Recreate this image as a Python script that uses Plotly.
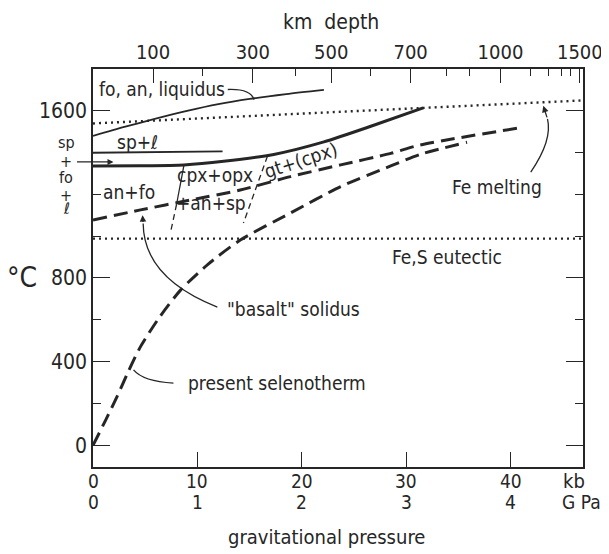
import plotly.graph_objects as go

# --- curves (pressure in kb, temperature in deg C) ---
liquidus_kb = [0, 3, 6, 9, 12, 15, 18.5, 22.1]
liquidus_c = [1478, 1521, 1561, 1598, 1630, 1655, 1678, 1698]

boundary_kb = [0, 4.5, 8.7, 12.5, 17.3, 22.1, 26.8, 31.6]
boundary_c = [1335, 1336, 1340, 1357, 1390, 1450, 1528, 1612]

sp_liq_kb = [0, 12.4]
sp_liq_c = [1398, 1405]

cpx_solid_kb = [8.7, 8.0]
cpx_solid_c = [1338, 1152]
cpx_dash_kb = [8.0, 7.4]
cpx_dash_c = [1152, 1013]

gt_kb = [16.7, 14.4]
gt_c = [1382, 1062]

solidus_kb = [0, 4.55, 9.3, 14.1, 18.9, 23.7, 28.5, 31.3, 40.6]
solidus_c = [1077, 1125, 1172, 1220, 1284, 1340, 1395, 1435, 1515]

seleno_kb = [0, 1.2, 2.3, 3.4, 4.55, 6.4, 8.4, 11, 14.1, 18.9, 23.7, 28.5, 31.3, 35.8]
seleno_c = [0, 120, 233, 355, 472, 615, 743, 865, 981, 1110, 1236, 1335, 1390, 1448]

fe_melt_kb = [0, 46.9]
fe_melt_c = [1538, 1648]

fes_kb = [0, 46.9]
fes_c = [988, 988]

# --- axes ---
kb_ticks = [0, 10, 20, 30, 40]
kb_labels = ["0", "10", "20", "30", "40"]
gpa_labels = ["0", "1", "2", "3", "4"]
temp_major = [0, 400, 800, 1600]
temp_minor = [200, 600, 1000, 1200, 1400]
depth_labels = ["100", "300", "500", "700", "1000", "1500"]
depth_label_kb = [5.75, 15.3, 22.8, 30.4, 39.0, 46.6]
depth_minor_kb = [10.5, 19.4, 26.6, 33.8, 36.0, 41.9, 43.6, 44.8, 45.7]

FONT = "Liberation Sans Narrow, Arial Narrow, DejaVu Sans Condensed, sans-serif"
INK = "#262626"
XR = [0, 46.9]
YR = [-103, 1798]

fig = go.Figure()


def line(x, y, width, dash="solid", xaxis="x"):
    fig.add_trace(go.Scatter(x=x, y=y, mode="lines", xaxis=xaxis,
                             line=dict(color=INK, width=width, dash=dash,
                                       shape="spline", smoothing=0.7),
                             hoverinfo="skip", showlegend=False))


line(fe_melt_kb, fe_melt_c, 2.4, "2px,4px", xaxis="x2")
line(fes_kb, fes_c, 2.4, "2px,4px")
line(liquidus_kb, liquidus_c, 1.8)
line(sp_liq_kb, sp_liq_c, 1.8)
line(boundary_kb, boundary_c, 3)
line(cpx_solid_kb, cpx_solid_c, 1.3)
line(cpx_dash_kb, cpx_dash_c, 1.3, "6px,4px")
line(gt_kb, gt_c, 1.3, "6px,4px")
line(solidus_kb, solidus_c, 3, "14px,7px")
line(seleno_kb, seleno_c, 3, "14px,7px")

labels = [
    ("fo, an, liquidus", 6.65, 1702, 0),
    ("sp+ℓ", 4.3, 1449, 0),
    ("an+fo", 3.4, 1212, 0),
    ("cpx+opx", 11.7, 1292, 0),
    ("+an+sp", 11.3, 1158, 0),
    ("gt+(cpx)", 19.9, 1363, -18),
    ("Fe melting", 38.7, 1234, 0),
    ("Fe,S eutectic", 33.9, 900, 0),
    ("\"basalt\" solidus", 19.2, 650, 0),
    ("present selenotherm", 17.6, 298, 0),
]
for text, x, y, ang in labels:
    fig.add_annotation(x=x, y=y, text=text, showarrow=False, textangle=ang,
                       xanchor="center", yanchor="middle",
                       font=dict(family=FONT, size=19, color=INK))


def margin_text(text, x, y, size=21, xref="paper", yref="paper", xanchor="center"):
    fig.add_annotation(x=x, y=y, xref=xref, yref=yref, text=text,
                       showarrow=False, xanchor=xanchor, yanchor="middle",
                       font=dict(family=FONT, size=size, color=INK))


# stacked phase label at the left with its arrow
for text, y in [("sp", 1445), ("+", 1358), ("fo", 1282), ("+", 1196), ("ℓ", 1134)]:
    margin_text(text, -0.055, y, size=16, yref="y")
fig.add_annotation(x=1.96, y=1354, ax=-38, ay=0, text="", showarrow=True,
                   arrowhead=2, arrowsize=1, arrowwidth=1.2, arrowcolor=INK)

# leader curves
leaders = [
    "M 12.9,1700 Q 15.1,1704 15.4,1652",
    "M 41.9,1306 Q 44.0,1459 43.5,1560",
    "M 11.9,661 Q 4.85,800 4.8,1060",
    "M 3.88,361 Q 4.8,306 7.7,298",
]
for p in leaders:
    fig.add_shape(type="path", path=p, xref="x", yref="y",
                  line=dict(color=INK, width=1.3))
fig.add_annotation(x=43.1, y=1622, ax=43.5, ay=1560, axref="x", ayref="y",
                   text="", showarrow=True, arrowhead=2, arrowsize=1,
                   arrowwidth=1.3, arrowcolor=INK)
fig.add_annotation(x=4.74, y=1100, ax=4.8, ay=1060, axref="x", ayref="y",
                   text="", showarrow=True, arrowhead=2, arrowsize=1,
                   arrowwidth=1.3, arrowcolor=INK)

# bottom tick rows and axis titles
for lab, x in zip(kb_labels, kb_ticks):
    margin_text(lab, x, -0.035, size=19, xref="x")
for lab, x in zip(gpa_labels, kb_ticks):
    margin_text(lab, x, -0.088, size=19, xref="x")
margin_text("kb", 0.982, -0.035, size=20)
margin_text("G Pa", 1.04, -0.088, size=19, xanchor="right")
margin_text("gravitational pressure", 0.476, -0.176, size=20)
margin_text("km  depth", 0.486, 1.118)
margin_text("°C", -0.145, 0.475, size=28)

# the page body adds an 8px margin, so the figure is drawn 8px smaller
fig.update_layout(
    width=601, height=546,
    margin=dict(l=85, r=26, t=61, b=87),
    paper_bgcolor="white", plot_bgcolor="white",
    font=dict(family=FONT, size=21, color=INK),
    xaxis=dict(range=XR, tickvals=kb_ticks, showticklabels=False,
               ticks="inside", ticklen=15, tickcolor=INK, tickwidth=1.3,
               showline=True, linecolor=INK, linewidth=1.5, automargin=False,
               showgrid=False, zeroline=False),
    xaxis2=dict(range=XR, overlaying="x", side="top",
                tickvals=depth_label_kb, ticktext=depth_labels,
                tickfont=dict(size=20),
                ticks="inside", ticklen=14, tickcolor=INK, tickwidth=1.3,
                minor=dict(tickvals=depth_minor_kb, ticks="inside", ticklen=7,
                           tickcolor=INK, tickwidth=1.3),
                showline=True, linecolor=INK, linewidth=1.5, automargin=False,
                showgrid=False, zeroline=False),
    yaxis=dict(range=YR, tickvals=temp_major, ticktext=[str(v) for v in temp_major],
               ticks="inside", ticklen=17, tickcolor=INK, tickwidth=1.3,
               minor=dict(tickvals=temp_minor, ticks="inside", ticklen=8,
                          tickcolor=INK, tickwidth=1.3),
               showline=True, linecolor=INK, linewidth=1.5, mirror="ticks",
               automargin=False, showgrid=False, zeroline=False),
)

fig.write_html("out.html")
